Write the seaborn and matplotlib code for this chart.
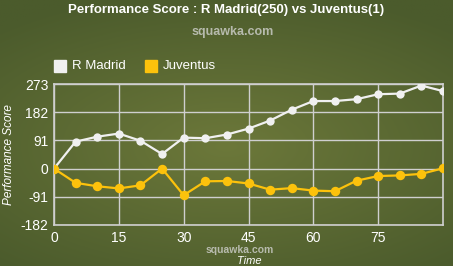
import numpy as np
import pandas as pd
import matplotlib
matplotlib.use("Agg")
import matplotlib.pyplot as plt
import seaborn as sns

minutes = [0, 5, 10, 15, 20, 25, 30, 35, 40, 45, 50, 55, 60, 65, 70, 75, 80, 85, 90]
madrid = [0, 87, 103, 113, 90, 47, 100, 98, 110, 129, 155, 190, 218, 218, 224, 240, 242, 268, 250]
juventus = [0, -46, -57, -64, -54, 0, -86, -41, -40, -48, -68, -63, -71, -73, -39, -24, -22, -17, 1]
x_ticks = [0, 15, 30, 45, 60, 75]
y_ticks = [-182, -91, 0, 91, 182, 273]
teams = ["R Madrid", "Juventus"]
colors = ["#f0f0f0", "#fcc20c"]

df = pd.DataFrame({
    "Time": minutes * 2,
    "Score": madrid + juventus,
    "Team": [teams[0]] * len(minutes) + [teams[1]] * len(minutes),
})

sns.set_theme(style="white")
plt.rcParams['font.family'] = ['Liberation Sans', 'DejaVu Sans']
plt.rcParams['axes.unicode_minus'] = False

fig = plt.figure(figsize=(4.53, 2.66), dpi=100)

# background gradient
bg = fig.add_axes([0, 0, 1, 1], zorder=-10)
yy, xx = np.mgrid[0:1:200j, 0:1:300j]
r = np.sqrt(((xx - 0.5) / 1.0) ** 2 + ((yy - 0.45) / 0.8) ** 2)
c_center = np.array([0x6c, 0x78, 0x3a]) / 255
c_edge = np.array([0x4b, 0x5b, 0x2c]) / 255
t = np.clip(r / 0.75, 0, 1)[..., None]
img = c_center * (1 - t) + c_edge * t
bg.imshow(img, extent=[0, 1, 0, 1], aspect="auto", origin="lower")
bg.axis("off")

ax = fig.add_axes([54 / 453, 1 - 225 / 266, 389 / 453, 141 / 266])
ax.set_facecolor("none")

sns.lineplot(data=df, x="Time", y="Score", hue="Team", palette=colors,
             marker="o", markeredgewidth=0, linewidth=1.6,
             ax=ax, legend=False, zorder=3)
for line, ms in zip(ax.lines, [6.0, 6.8]):
    line.set_markersize(ms)
    line.set_markeredgewidth(0)

ax.set_xlim(0, 90)
ax.set_ylim(-182, 273)
ax.set_xticks(x_ticks)
ax.set_yticks(y_ticks)
ax.grid(True, color="#cfcfcf", linewidth=1)
for s in ax.spines.values():
    s.set_color("#cfcfcf")
    s.set_linewidth(1.2)
ax.tick_params(axis="both", colors="white", labelsize=10, length=0, pad=4)
ax.set_xlabel("")
ax.set_ylabel("")

fig.text(0.5, 1 - 10 / 266, "Performance Score : R Madrid(250) vs Juventus(1)",
         ha="center", va="center", color="white", fontsize=9.5, fontweight="bold")
fig.text(233 / 453, 1 - 32 / 266, "squawka.com", ha="center", va="center",
         color="#d8d8d8", alpha=0.75, fontsize=9, fontweight="bold")
fig.text(240 / 453, 1 - 250 / 266, "squawka.com", ha="center", va="center",
         color="#d8d8d8", alpha=0.75, fontsize=7.5, fontweight="bold")
fig.text(9 / 453, 1 - 155 / 266, "Performance Score", rotation=90, ha="center",
         va="center", color="white", fontsize=8.5, fontstyle="italic")
fig.text(249 / 453, 1 - 261 / 266, "Time", ha="center", va="center",
         color="white", fontsize=8, fontstyle="italic")

# legend
lx = [54, 145]
for xpos, name, col in zip(lx, teams, colors):
    fig.patches.append(plt.Rectangle((xpos / 453, 1 - 72 / 266), 12 / 453, 12 / 266,
                                     transform=fig.transFigure, color=col, figure=fig))
    fig.text((xpos + 18) / 453, 1 - 66 / 266, name, ha="left", va="center",
             color="white", fontsize=9.5)

fig.savefig("out.png", dpi=100)
